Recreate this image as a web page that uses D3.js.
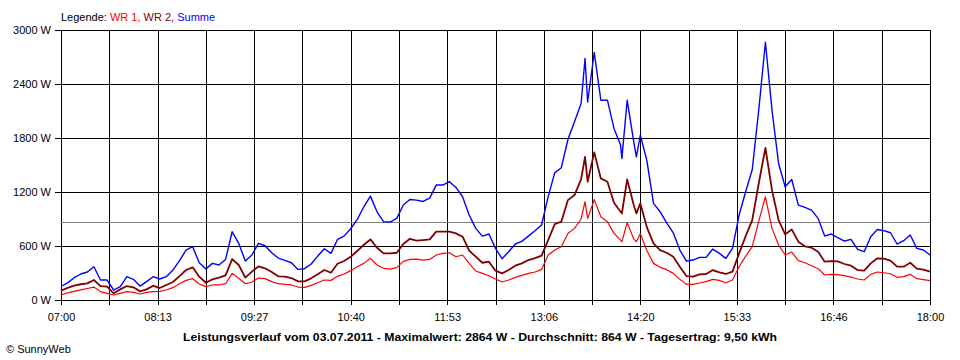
<!DOCTYPE html>
<html>
<head>
<meta charset="utf-8">
<script src="https://cdn.jsdelivr.net/npm/d3@7"></script>
<style>
  html, body { margin: 0; padding: 0; background: #fff; }
  svg { display: block; }
  text { font-family: "Liberation Sans", Arial, sans-serif; font-size: 11px; fill: #000; }
</style>
</head>
<body>
<svg id="chart" width="960" height="360"></svg>
<script>
// ---- data ----
const times = ["07:00","07:05","07:10","07:15","07:20","07:25","07:30","07:35","07:40","07:45","07:50","07:55",
"08:00","08:05","08:10","08:15","08:20","08:25","08:30","08:35","08:40","08:45","08:50","08:55",
"09:00","09:05","09:10","09:15","09:20","09:25","09:30","09:35","09:40","09:45","09:50","09:55",
"10:00","10:05","10:10","10:15","10:20","10:25","10:30","10:35","10:40","10:45","10:50","10:55",
"11:00","11:05","11:10","11:15","11:20","11:25","11:30","11:35","11:40","11:45","11:50","11:55",
"12:00","12:05","12:10","12:15","12:20","12:25","12:30","12:35","12:40","12:45","12:50","12:55",
"13:00","13:05","13:10","13:15","13:20","13:25","13:30","13:35","13:38","13:40","13:45","13:50","13:55",
"14:00","14:05","14:06","14:10","14:15","14:17","14:20","14:25","14:30","14:35","14:40","14:45","14:50","14:55",
"15:00","15:05","15:10","15:15","15:20","15:25","15:30","15:35","15:40","15:45","15:50","15:55",
"16:00","16:05","16:10","16:15","16:20","16:25","16:30","16:35","16:40","16:45","16:50","16:55",
"17:00","17:05","17:10","17:15","17:20","17:25","17:30","17:35","17:40","17:45","17:50","17:55","18:00"];

const summe = [150,190,248,289,311,370,222,222,111,148,259,230,
155,204,259,233,259,333,437,555,592,414,344,407,
389,451,758,629,433,500,629,603,525,466,440,414,
340,348,400,488,570,518,673,710,792,895,1036,1154,
980,870,866,907,1055,1117,1110,1095,1132,1277,1277,1314,
1251,1147,944,796,710,733,574,459,537,622,651,710,
770,833,1148,1413,1470,1783,1980,2183,2683,2200,2750,2220,2220,
1906,1721,1573,2220,1758,1591,1832,1547,1073,981,858,747,555,433,
444,474,474,566,518,463,574,944,1203,1450,2120,2864,
2109,1517,1258,1339,1055,1029,999,907,710,733,692,655,
673,562,537,703,784,770,747,622,659,722,574,555,500];

const wr2 = [105,135,160,175,185,222,155,148,74,118,155,141,
96,118,159,133,167,200,266,333,363,259,192,229,
248,274,455,389,248,315,374,352,311,263,259,244,
207,207,241,285,333,303,403,433,481,544,614,673,
581,518,518,525,622,680,659,666,673,759,759,759,
740,703,548,481,414,426,326,296,333,381,407,444,
466,492,666,844,870,1110,1166,1340,1591,1314,1640,1351,1314,
1080,981,962,1340,1055,962,1073,807,629,555,525,481,370,266,
259,285,289,333,307,289,315,518,710,888,1300,1691,
1221,888,729,784,648,597,581,537,426,433,429,400,
381,333,326,407,463,459,437,370,370,414,348,337,315];

const wr1 = [55,80,95,112,128,144,93,74,56,74,93,85,
67,85,93,96,111,137,181,218,237,178,148,167,
167,181,296,241,181,200,244,237,204,181,174,167,
144,141,163,192,222,218,263,289,326,370,407,463,
389,352,344,359,429,451,455,444,451,500,518,525,
481,500,407,322,296,270,233,200,222,252,274,296,
311,340,500,555,592,740,796,900,1092,907,1115,925,870,
740,666,648,860,677,648,740,548,407,363,337,296,229,174,
174,189,204,229,218,192,222,370,488,592,880,1147,
796,611,500,533,437,414,381,348,278,285,281,270,
255,233,222,285,311,303,292,252,259,285,237,226,215];

const yTicks = [0, 600, 1200, 1800, 2400, 3000];
const xTickLabels = ["07:00","08:13","09:27","10:40","11:53","13:06","14:20","15:33","16:46","18:00"];
const average = 864;
const seriesNames = ["WR 1", "WR 2", "Summe"];
const titleText = "Leistungsverlauf vom 03.07.2011 - Maximalwert: 2864 W - Durchschnitt: 864 W - Tagesertrag: 9,50 kWh";
const footerText = "\u00A9 SunnyWeb";

// ---- drawing ----
(function () {
const svg = d3.select("#chart");
const parse = d3.timeParse("%H:%M");
const t0 = parse("07:00"), t1 = parse("18:00");
const pL = 61, pR = 930, pT = 30, pB = 300;

const x = d3.scaleTime().domain([t0, t1]).range([pL, pR]);
const y = d3.scaleLinear().domain([0, 3000]).range([pB, pT]);

// 18 equal grid intervals; every second one is labelled
const gridTimes = d3.range(19).map(i => new Date(+t0 + i * (t1 - t0) / 18));

// horizontal grid
const yGrid = d3.axisLeft(y).tickValues(yTicks)
  .tickSizeInner(-(pR - pL)).tickSizeOuter(0).tickFormat("");
svg.append("g").attr("transform", `translate(${pL},0)`).call(yGrid)
  .call(g => g.select(".domain").remove())
  .call(g => g.selectAll("line").attr("stroke", "#000").attr("shape-rendering", "crispEdges"));

// left ticks + labels
const yLab = d3.axisLeft(y).tickValues(yTicks).tickSize(6).tickPadding(4)
  .tickFormat(d => d + " W");
svg.append("g").attr("transform", `translate(${pL},0)`).call(yLab)
  .call(g => g.select(".domain").remove())
  .call(g => g.selectAll("line").attr("stroke", "#000").attr("shape-rendering", "crispEdges"))
  .call(g => g.selectAll("text").attr("font-family", null).attr("font-size", null));

// vertical grid
const xGrid = d3.axisBottom(x).tickValues(gridTimes)
  .tickSizeInner(-(pB - pT)).tickSizeOuter(0).tickFormat("");
svg.append("g").attr("transform", `translate(0,${pB})`).call(xGrid)
  .call(g => g.select(".domain").remove())
  .call(g => g.selectAll("line").attr("stroke", "#000").attr("shape-rendering", "crispEdges"));

// bottom ticks + labels
const xAxis = d3.axisBottom(x).tickValues(gridTimes).tickSize(5).tickPadding(8)
  .tickFormat((d, i) => i % 2 === 0 ? xTickLabels[i / 2] : "");
svg.append("g").attr("transform", `translate(0,${pB})`).call(xAxis)
  .call(g => g.select(".domain").attr("stroke", "#000").attr("shape-rendering", "crispEdges"))
  .call(g => g.selectAll("line").attr("stroke", "#000").attr("shape-rendering", "crispEdges"))
  .call(g => g.selectAll("text").attr("font-family", null).attr("font-size", null));

// average line
svg.append("line")
  .attr("x1", pL).attr("x2", pR)
  .attr("y1", Math.round(y(average)) + 0.5).attr("y2", Math.round(y(average)) + 0.5)
  .attr("stroke", "#808080").attr("stroke-width", 1);

// series
const tp = times.map(parse);
const series = [
  { name: seriesNames[2], values: summe, color: "#0000ff", width: 1.4 },
  { name: seriesNames[1], values: wr2, color: "#800000", width: 1.8 },
  { name: seriesNames[0], values: wr1, color: "#ff0000", width: 1.2 }
];
const line = d3.line().x((d, i) => x(tp[i])).y(d => y(d));
svg.append("g").selectAll("path").data(series).join("path")
  .attr("d", s => line(s.values))
  .attr("fill", "none")
  .attr("stroke", s => s.color)
  .attr("stroke-width", s => s.width)
  .attr("stroke-linejoin", "round");

// legend
const leg = svg.append("text").attr("x", 61).attr("y", 21);
leg.append("tspan").text("Legende: ");
leg.append("tspan").style("fill", "#ff0000").text(seriesNames[0] + ",");
leg.append("tspan").style("fill", "#800000").text(" " + seriesNames[1] + ",");
leg.append("tspan").style("fill", "#0000ff").text(" " + seriesNames[2]);

// title & footer
svg.append("text").attr("x", 480).attr("y", 341).attr("text-anchor", "middle")
  .attr("font-weight", "bold").attr("textLength", 594).attr("lengthAdjust", "spacingAndGlyphs")
  .text(titleText);
svg.append("text").attr("x", 6).attr("y", 353).text(footerText);
})();
</script>
</body>
</html>
